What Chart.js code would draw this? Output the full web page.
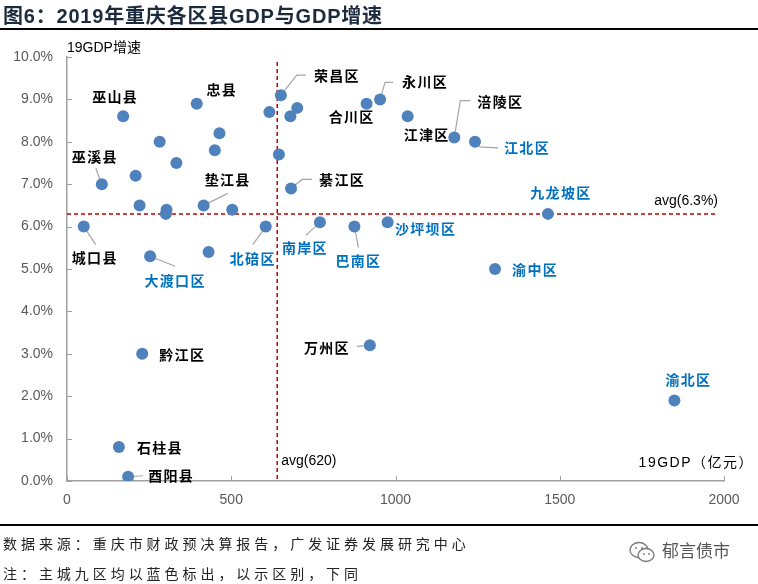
<!DOCTYPE html>
<html>
<head>
<meta charset="utf-8">
<script src="https://cdn.jsdelivr.net/npm/chart.js@4.4.1/dist/chart.umd.min.js"></script>
<style>
    body { margin: 0; background: #fff; }
    #wrap { position: relative; width: 758px; height: 584px; overflow: hidden; font-family: "Liberation Sans", "Noto Sans CJK SC", sans-serif; }
    #chartBox { position: absolute; left: 0; top: 0; width: 758px; height: 584px; }
    .title { position: absolute; left: 3px; top: 0px; font: bold 20px "Liberation Sans", "Noto Sans CJK SC", sans-serif; color: #1c2a3e; white-space: nowrap; letter-spacing: 0.8px; }
    .rule { position: absolute; left: 0; width: 758px; background: #000; }
    .note { position: absolute; left: 3px; font: 14px "Noto Sans CJK SC", sans-serif; color: #222; letter-spacing: 3.95px; white-space: nowrap; }
    .mark { position: absolute; left: 628px; top: 537px; font: 17px "Noto Sans CJK SC", sans-serif; color: #555; white-space: nowrap; }
    .mark svg { vertical-align: middle; margin-right: 6px; }
</style>
</head>
<body>
<div id="wrap">
    <div id="chartBox"><canvas id="chart"></canvas></div>
    <div class="title">图6：2019年重庆各区县GDP与GDP增速</div>
    <div class="rule" style="top:28px;height:2px;"></div>
    <div class="rule" style="top:524px;height:1.5px;"></div>
    <div class="note" style="top:533px;">数据来源：重庆市财政预决算报告，广发证券发展研究中心</div>
    <div class="note" style="top:563px;">注：主城九区均以蓝色标出，以示区别，下同</div>
    <div class="mark"><svg width="28" height="24" viewBox="0 0 28 24">
        <ellipse cx="11" cy="10" rx="9" ry="7.5" fill="none" stroke="#777" stroke-width="1.3"/>
        <ellipse cx="18" cy="15" rx="8" ry="6.5" fill="#fff" stroke="#777" stroke-width="1.3"/>
        <circle cx="8" cy="8" r="1" fill="#777"/><circle cx="14" cy="8" r="1" fill="#777"/>
        <circle cx="16" cy="14" r="0.9" fill="#777"/><circle cx="21" cy="14" r="0.9" fill="#777"/>
    </svg>郁言债市</div>
</div>
<script>
// 各区县名称（'' 表示图中未标注）
const names = [
    '巫山县', '忠县', '', '', '', '', '', '巫溪县', '', '', '', '垫江县', '', '城口县', '北碚区',
    '', '荣昌区', '', '', '', '綦江区', '合川区', '永川区', '江津区', '涪陵区', '江北区',
    '南岸区', '巴南区', '沙坪坝区', '大渡口区', '', '黔江区', '九龙坡区', '渝中区',
    '石柱县', '酉阳县', '渝北区', '万州区'
];
// 2019 GDP（亿元）
const gdp = [
    171, 395, 464, 282, 450, 333, 209, 106, 221, 303, 301, 416, 503, 51, 605,
    616, 651, 701, 680, 645, 682, 912, 953, 1037, 1179, 1242,
    770, 875, 976, 253, 431, 229, 1464, 1303,
    158, 186, 1849, 922
];
// 2019 GDP 增速（%）
const growth = [
    8.6, 8.9, 8.2, 8.0, 7.8, 7.5, 7.2, 7.0, 6.5, 6.4, 6.3, 6.5, 6.4, 6.0, 6.0,
    8.7, 9.1, 8.8, 8.6, 7.7, 6.9, 8.9, 9.0, 8.6, 8.1, 8.0,
    6.1, 6.0, 6.1, 5.3, 5.4, 3.0, 6.3, 5.0,
    0.8, 0.1, 1.9, 3.2
];
// 主城九区
const mainDistricts = ['北碚区', '大渡口区', '南岸区', '巴南区', '沙坪坝区', '江北区', '九龙坡区', '渝中区', '渝北区'];

const avgGdp = 640;
const avgGrowth = 6.3;
const xTicks = [0, 500, 1000, 1500, 2000];
const yTicks = [0, 1, 2, 3, 4, 5, 6, 7, 8, 9, 10];

// label placement (pixel offset of text centre from the point) and leader lines
const labelPos = {
    '巫山县': [-8, -20], '忠县': [25, -14], '巫溪县': [-7, -28], '垫江县': [24, -26],
    '城口县': [11, 31], '大渡口区': [25, 24], '北碚区': [-13, 32], '黔江区': [40, 1],
    '南岸区': [-15, 25], '巴南区': [4, 34], '沙坪坝区': [38, 6], '万州区': [-43, 2],
    '荣昌区': [56, -19], '合川区': [-15, 13], '永川区': [45, -18], '涪陵区': [46, -36],
    '江津区': [19, 18], '江北区': [52, 6], '綦江区': [51, -9], '九龙坡区': [13, -21],
    '渝中区': [40, 1], '渝北区': [14, -21], '石柱县': [41, 1], '酉阳县': [43, -1]
};
const leaders = {
    '巫溪县': [[-1, -2], [-6, -16]],
    '垫江县': [[0, 0], [24, -12]],
    '城口县': [[0, 0], [12, 18]],
    '大渡口区': [[0, 0], [25, 10]],
    '北碚区': [[0, 0], [-13, 18]],
    '南岸区': [[0, 0], [-14, 13]],
    '巴南区': [[0, 0], [4, 21]],
    '万州区': [[0, 0], [-13, 1]],
    '荣昌区': [[0, 0], [16, -20], [25, -20]],
    '永川区': [[0, 0], [5, -17], [13, -17]],
    '涪陵区': [[0, 0], [6, -37], [16, -37]],
    '江北区': [[0, 0], [5, 5], [23, 6]],
    '綦江区': [[0, 0], [11, -9], [21, -9]],
    '酉阳县': [[0, 0], [15, -1]]
};

const points = gdp.map((g, i) => ({ x: g, y: growth[i] }));

const overlay = {
    id: 'overlay',
    beforeDatasetsDraw(chart) {
        const { ctx, scales: { x, y }, chartArea } = chart;
        ctx.save();
        // inward ticks
        ctx.strokeStyle = '#a0a0a0';
        ctx.lineWidth = 1;
        xTicks.forEach(v => {
            const px = Math.round(x.getPixelForValue(v)) + 0.5;
            ctx.beginPath(); ctx.moveTo(px, chartArea.bottom); ctx.lineTo(px, chartArea.bottom - 5); ctx.stroke();
        });
        yTicks.forEach(v => {
            const py = Math.round(y.getPixelForValue(v)) + 0.5;
            ctx.beginPath(); ctx.moveTo(chartArea.left, py); ctx.lineTo(chartArea.left + 5, py); ctx.stroke();
        });
        // average lines
        ctx.strokeStyle = '#c00000';
        ctx.lineWidth = 1.5;
        ctx.setLineDash([4, 3]);
        const ax = x.getPixelForValue(avgGdp);
        ctx.beginPath(); ctx.moveTo(ax, chartArea.top + 5); ctx.lineTo(ax, chartArea.bottom); ctx.stroke();
        const ay = y.getPixelForValue(avgGrowth);
        ctx.beginPath(); ctx.moveTo(chartArea.left, ay); ctx.lineTo(chartArea.right - 9, ay); ctx.stroke();
        ctx.setLineDash([]);
        // leader lines
        ctx.strokeStyle = '#a6a6a6';
        ctx.lineWidth = 1.2;
        names.forEach((n, i) => {
            if (!leaders[n]) return;
            const px = x.getPixelForValue(gdp[i]);
            const py = y.getPixelForValue(growth[i]);
            ctx.beginPath();
            leaders[n].forEach(([dx, dy], k) => {
                if (k === 0) ctx.moveTo(px + dx, py + dy); else ctx.lineTo(px + dx, py + dy);
            });
            ctx.stroke();
        });
        ctx.restore();
    },
    afterDatasetsDraw(chart) {
        const { ctx, scales: { x, y }, chartArea } = chart;
        ctx.save();
        ctx.textBaseline = 'middle';
        ctx.textAlign = 'center';
        ctx.font = 'bold 14px "Noto Sans CJK SC", sans-serif';
        ctx.letterSpacing = '1.3px';
        names.forEach((n, i) => {
            if (!n || !labelPos[n]) return;
            const px = x.getPixelForValue(gdp[i]);
            const py = y.getPixelForValue(growth[i]);
            ctx.fillStyle = mainDistricts.includes(n) ? '#0070c0' : '#000';
            ctx.fillText(n, px + labelPos[n][0], py + labelPos[n][1]);
        });
        ctx.letterSpacing = '0px';
        ctx.fillStyle = '#000';
        ctx.font = '14px "Liberation Sans", "Noto Sans CJK SC", sans-serif';
        ctx.textAlign = 'left';
        ctx.fillText('19GDP增速', chartArea.left, chartArea.top - 9);
        ctx.fillText('avg(620)', x.getPixelForValue(avgGdp) + 4, chartArea.bottom - 20);
        ctx.textAlign = 'right';
        ctx.fillText('avg(6.3%)', chartArea.right - 6, y.getPixelForValue(avgGrowth) - 13);
        ctx.letterSpacing = '1.5px';
        ctx.fillText('19GDP（亿元）', chartArea.right + 30, chartArea.bottom - 18);
        ctx.restore();
    }
};

new Chart(document.getElementById('chart'), {
    type: 'scatter',
    data: {
        datasets: [{
            data: points,
            backgroundColor: '#4f81bd',
            borderWidth: 0,
            pointRadius: 6,
            pointHoverRadius: 6
        }]
    },
    options: {
        responsive: true,
        maintainAspectRatio: false,
        animation: false,
        layout: { padding: { left: 0, right: 34, top: 57, bottom: 73 } },
        plugins: { legend: { display: false }, tooltip: { enabled: false } },
        scales: {
            x: {
                type: 'linear',
                min: 0, max: 2000,
                afterBuildTicks: s => { s.ticks = xTicks.map(v => ({ value: v })); },
                afterFit: s => { s.height = 30; },
                grid: { display: false, drawTicks: false },
                border: { color: '#a0a0a0', width: 1.5 },
                ticks: {
                    color: '#595959',
                    font: { family: '"Liberation Sans", sans-serif', size: 14 },
                    padding: 11,
                    callback: v => String(v)
                }
            },
            y: {
                type: 'linear',
                min: 0, max: 10,
                afterBuildTicks: s => { s.ticks = yTicks.map(v => ({ value: v })); },
                afterFit: s => { s.width = 67; },
                grid: { display: false, drawTicks: false },
                border: { color: '#a0a0a0', width: 1.5 },
                ticks: {
                    color: '#595959',
                    font: { family: '"Liberation Sans", sans-serif', size: 14 },
                    padding: 14,
                    callback: v => v.toFixed(1) + '%'
                }
            }
        }
    },
    plugins: [overlay]
});
</script>
</body>
</html>
